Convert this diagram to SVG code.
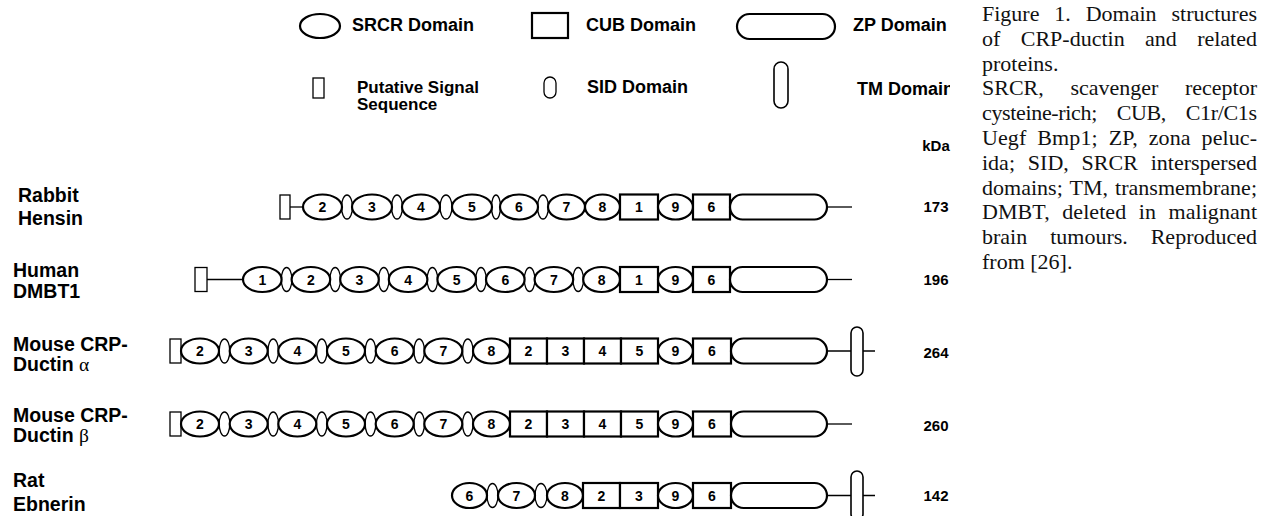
<svg xmlns="http://www.w3.org/2000/svg" width="1267" height="516" viewBox="0 0 1267 516">
<style>
.d{fill:#fff;stroke:#000;stroke-width:2.2}
.s{fill:#fff;stroke:#000;stroke-width:1.3}
.tm{fill:#fff;stroke:#000;stroke-width:1.6}
.ln{stroke:#000;stroke-width:1.3;fill:none}
.n{font-family:"Liberation Sans",Arial,sans-serif;font-weight:bold;font-size:14px;text-anchor:middle;fill:#000}
.lb{font-family:"Liberation Sans",Arial,sans-serif;font-weight:bold;font-size:19.5px;fill:#000}
.lg{font-family:"Liberation Sans",Arial,sans-serif;font-weight:bold;font-size:18px;fill:#000}
.lg2{font-family:"Liberation Sans",Arial,sans-serif;font-weight:bold;font-size:17px;fill:#000}
.k{font-family:"Liberation Sans",Arial,sans-serif;font-weight:bold;font-size:15px;text-anchor:middle;fill:#000}
.gr{font-family:"Liberation Serif","Times New Roman",serif;font-weight:normal}
.cap{font-family:"Liberation Serif","Times New Roman",serif;font-size:22px;fill:#111}
</style>
<defs>
<clipPath id="fig"><rect x="0" y="0" width="950" height="516"/></clipPath>
</defs>
<rect width="1267" height="516" fill="#fff"/>

<!-- Legend -->
<g id="legend">
<g id="leg-srcr"><ellipse class="d" cx="320" cy="26" rx="20" ry="12"/><text class="lg" x="352" y="31">SRCR Domain</text></g>
<g id="leg-cub"><rect class="d" x="532" y="13" width="36" height="25"/><text class="lg" x="586" y="31">CUB Domain</text></g>
<g id="leg-zp"><rect class="d" x="737" y="14" width="98" height="25" rx="12.5"/><text class="lg" x="853" y="31">ZP Domain</text></g>
<g id="leg-sig"><rect class="s" x="313" y="78" width="11" height="20"/><text class="lg2" x="357" y="93">Putative Signal</text><text class="lg2" x="357" y="110">Sequence</text></g>
<g id="leg-sid"><rect class="s" x="544" y="77" width="12" height="21" rx="6"/><text class="lg" x="587" y="93">SID Domain</text></g>
<g id="leg-tm"><rect class="tm" x="774" y="62" width="14" height="46" rx="7"/><text class="lg" x="857" y="95" clip-path="url(#fig)">TM Domain</text></g>
</g>

<text class="k" x="936" y="151">kDa</text>

<!-- Connectors (linkers) -->
<g id="connectors">
<line class="ln" x1="290" y1="207" x2="303" y2="207"/>
<line class="ln" x1="827" y1="207" x2="852" y2="207"/>
<line class="ln" x1="207" y1="279.5" x2="243" y2="279.5"/>
<line class="ln" x1="827" y1="279.5" x2="852" y2="279.5"/>
<line class="ln" x1="827" y1="351" x2="875" y2="351"/>
<line class="ln" x1="827" y1="424" x2="852" y2="424"/>
<line class="ln" x1="827" y1="495.5" x2="875" y2="495.5"/>
</g>

<!-- Row 1: Rabbit Hensin -->
<g id="rabbit-hensin">
<text class="lb" x="18" y="202">Rabbit</text><text class="lb" x="18" y="225">Hensin</text>
<rect class="s" x="280" y="195" width="10" height="24"/>
<ellipse class="s" cx="347" cy="207" rx="5.5" ry="12"/>
<ellipse class="s" cx="397" cy="207" rx="5.5" ry="12"/>
<ellipse class="s" cx="446" cy="207" rx="6" ry="12"/>
<ellipse class="s" cx="496" cy="207" rx="4.5" ry="12"/>
<ellipse class="s" cx="543" cy="207" rx="5.5" ry="12"/>
<ellipse class="d" cx="322.5" cy="207" rx="19.5" ry="12.5"/><text class="n" x="322.5" y="212">2</text>
<ellipse class="d" cx="372" cy="207" rx="20" ry="12.5"/><text class="n" x="372" y="212">3</text>
<ellipse class="d" cx="421" cy="207" rx="19" ry="12.5"/><text class="n" x="421" y="212">4</text>
<ellipse class="d" cx="472" cy="207" rx="20" ry="12.5"/><text class="n" x="472" y="212">5</text>
<ellipse class="d" cx="519" cy="207" rx="19" ry="12.5"/><text class="n" x="519" y="212">6</text>
<ellipse class="d" cx="566.5" cy="207" rx="18.5" ry="12.5"/><text class="n" x="566.5" y="212">7</text>
<ellipse class="d" cx="602.5" cy="207" rx="17.5" ry="12.5"/><text class="n" x="602.5" y="212">8</text>
<rect class="d" x="620" y="194.5" width="38" height="25"/><text class="n" x="639" y="212">1</text>
<ellipse class="d" cx="675.5" cy="207" rx="17.5" ry="12.5"/><text class="n" x="675.5" y="212">9</text>
<rect class="d" x="693" y="194.5" width="37" height="25"/><text class="n" x="711.5" y="212">6</text>
<rect class="d" x="730" y="194.5" width="97" height="25" rx="12.5"/>
<text class="k" x="936" y="212">173</text>
</g>

<!-- Row 2: Human DMBT1 -->
<g id="human-dmbt1">
<text class="lb" x="13" y="277">Human</text><text class="lb" x="13" y="298">DMBT1</text>
<rect class="s" x="195" y="267.5" width="12" height="24"/>
<ellipse class="s" cx="286.6" cy="279.5" rx="5.3" ry="12"/>
<ellipse class="s" cx="335.2" cy="279.5" rx="5.3" ry="12"/>
<ellipse class="s" cx="383.8" cy="279.5" rx="5.3" ry="12"/>
<ellipse class="s" cx="432.4" cy="279.5" rx="5.3" ry="12"/>
<ellipse class="s" cx="481" cy="279.5" rx="5.3" ry="12"/>
<ellipse class="s" cx="529.6" cy="279.5" rx="5.3" ry="12"/>
<ellipse class="s" cx="578.2" cy="279.5" rx="5.3" ry="12"/>
<ellipse class="d" cx="262.3" cy="279.5" rx="19.3" ry="12.5"/><text class="n" x="262.3" y="284.5">1</text>
<ellipse class="d" cx="310.9" cy="279.5" rx="19.3" ry="12.5"/><text class="n" x="310.9" y="284.5">2</text>
<ellipse class="d" cx="359.5" cy="279.5" rx="19.3" ry="12.5"/><text class="n" x="359.5" y="284.5">3</text>
<ellipse class="d" cx="408.1" cy="279.5" rx="19.3" ry="12.5"/><text class="n" x="408.1" y="284.5">4</text>
<ellipse class="d" cx="456.7" cy="279.5" rx="19.3" ry="12.5"/><text class="n" x="456.7" y="284.5">5</text>
<ellipse class="d" cx="505.3" cy="279.5" rx="19.3" ry="12.5"/><text class="n" x="505.3" y="284.5">6</text>
<ellipse class="d" cx="553.9" cy="279.5" rx="19.3" ry="12.5"/><text class="n" x="553.9" y="284.5">7</text>
<ellipse class="d" cx="601.6" cy="279.5" rx="18.4" ry="12.5"/><text class="n" x="601.6" y="284.5">8</text>
<rect class="d" x="620" y="267" width="38" height="25"/><text class="n" x="639" y="284.5">1</text>
<ellipse class="d" cx="675.5" cy="279.5" rx="17.5" ry="12.5"/><text class="n" x="675.5" y="284.5">9</text>
<rect class="d" x="693" y="267" width="37" height="25"/><text class="n" x="711.5" y="284.5">6</text>
<rect class="d" x="730" y="267" width="97" height="25" rx="12.5"/>
<text class="k" x="936" y="285">196</text>
</g>

<!-- Row 3: Mouse CRP-Ductin alpha -->
<g id="mouse-crp-ductin-alpha">
<text class="lb" x="13" y="351">Mouse CRP-</text><text class="lb" x="13" y="371">Ductin <tspan class="gr">α</tspan></text>
<rect class="s" x="170" y="339" width="11" height="24"/>
<ellipse class="s" cx="224.5" cy="351" rx="5.3" ry="12"/>
<ellipse class="s" cx="273.2" cy="351" rx="5.3" ry="12"/>
<ellipse class="s" cx="321.8" cy="351" rx="5.3" ry="12"/>
<ellipse class="s" cx="370.5" cy="351" rx="5.3" ry="12"/>
<ellipse class="s" cx="419.2" cy="351" rx="5.3" ry="12"/>
<ellipse class="s" cx="467.8" cy="351" rx="5.3" ry="12"/>
<ellipse class="d" cx="200" cy="351" rx="19" ry="12.5"/><text class="n" x="200" y="356">2</text>
<ellipse class="d" cx="248.7" cy="351" rx="19" ry="12.5"/><text class="n" x="248.7" y="356">3</text>
<ellipse class="d" cx="297.3" cy="351" rx="19" ry="12.5"/><text class="n" x="297.3" y="356">4</text>
<ellipse class="d" cx="346" cy="351" rx="19" ry="12.5"/><text class="n" x="346" y="356">5</text>
<ellipse class="d" cx="394.7" cy="351" rx="19" ry="12.5"/><text class="n" x="394.7" y="356">6</text>
<ellipse class="d" cx="443.3" cy="351" rx="19" ry="12.5"/><text class="n" x="443.3" y="356">7</text>
<ellipse class="d" cx="491.5" cy="351" rx="18.5" ry="12.5"/><text class="n" x="491.5" y="356">8</text>
<rect class="d" x="510" y="338.5" width="37" height="25"/><text class="n" x="528.5" y="356">2</text>
<rect class="d" x="547" y="338.5" width="37" height="25"/><text class="n" x="565.5" y="356">3</text>
<rect class="d" x="584" y="338.5" width="37" height="25"/><text class="n" x="602.5" y="356">4</text>
<rect class="d" x="621" y="338.5" width="37" height="25"/><text class="n" x="639.5" y="356">5</text>
<ellipse class="d" cx="675.5" cy="351" rx="17.5" ry="12.5"/><text class="n" x="675.5" y="356">9</text>
<rect class="d" x="693" y="338.5" width="38" height="25"/><text class="n" x="712" y="356">6</text>
<rect class="d" x="731" y="338.5" width="96" height="25" rx="12.5"/>
<rect class="tm" x="851" y="327" width="12" height="49" rx="6"/>
<text class="k" x="936" y="358">264</text>
</g>

<!-- Row 4: Mouse CRP-Ductin beta -->
<g id="mouse-crp-ductin-beta">
<text class="lb" x="13" y="422">Mouse CRP-</text><text class="lb" x="13" y="442">Ductin <tspan class="gr">β</tspan></text>
<rect class="s" x="170" y="412" width="11" height="24"/>
<ellipse class="s" cx="224.5" cy="424" rx="5.3" ry="12"/>
<ellipse class="s" cx="273.2" cy="424" rx="5.3" ry="12"/>
<ellipse class="s" cx="321.8" cy="424" rx="5.3" ry="12"/>
<ellipse class="s" cx="370.5" cy="424" rx="5.3" ry="12"/>
<ellipse class="s" cx="419.2" cy="424" rx="5.3" ry="12"/>
<ellipse class="s" cx="467.8" cy="424" rx="5.3" ry="12"/>
<ellipse class="d" cx="200" cy="424" rx="19" ry="12.5"/><text class="n" x="200" y="429">2</text>
<ellipse class="d" cx="248.7" cy="424" rx="19" ry="12.5"/><text class="n" x="248.7" y="429">3</text>
<ellipse class="d" cx="297.3" cy="424" rx="19" ry="12.5"/><text class="n" x="297.3" y="429">4</text>
<ellipse class="d" cx="346" cy="424" rx="19" ry="12.5"/><text class="n" x="346" y="429">5</text>
<ellipse class="d" cx="394.7" cy="424" rx="19" ry="12.5"/><text class="n" x="394.7" y="429">6</text>
<ellipse class="d" cx="443.3" cy="424" rx="19" ry="12.5"/><text class="n" x="443.3" y="429">7</text>
<ellipse class="d" cx="491.5" cy="424" rx="18.5" ry="12.5"/><text class="n" x="491.5" y="429">8</text>
<rect class="d" x="510" y="411.5" width="37" height="25"/><text class="n" x="528.5" y="429">2</text>
<rect class="d" x="547" y="411.5" width="37" height="25"/><text class="n" x="565.5" y="429">3</text>
<rect class="d" x="584" y="411.5" width="37" height="25"/><text class="n" x="602.5" y="429">4</text>
<rect class="d" x="621" y="411.5" width="37" height="25"/><text class="n" x="639.5" y="429">5</text>
<ellipse class="d" cx="675.5" cy="424" rx="17.5" ry="12.5"/><text class="n" x="675.5" y="429">9</text>
<rect class="d" x="693" y="411.5" width="38" height="25"/><text class="n" x="712" y="429">6</text>
<rect class="d" x="731" y="411.5" width="96" height="25" rx="12.5"/>
<text class="k" x="936" y="431">260</text>
</g>

<!-- Row 5: Rat Ebnerin -->
<g id="rat-ebnerin">
<text class="lb" x="13" y="487">Rat</text><text class="lb" x="13" y="511">Ebnerin</text>
<ellipse class="s" cx="492.5" cy="495.5" rx="5.5" ry="12"/>
<ellipse class="s" cx="541" cy="495.5" rx="6" ry="12"/>
<ellipse class="d" cx="469.5" cy="495.5" rx="17.5" ry="12.5"/><text class="n" x="469.5" y="500.5">6</text>
<ellipse class="d" cx="516.5" cy="495.5" rx="18.5" ry="12.5"/><text class="n" x="516.5" y="500.5">7</text>
<ellipse class="d" cx="565" cy="495.5" rx="18" ry="12.5"/><text class="n" x="565" y="500.5">8</text>
<rect class="d" x="583" y="483" width="37" height="25"/><text class="n" x="601.5" y="500.5">2</text>
<rect class="d" x="620" y="483" width="38" height="25"/><text class="n" x="639" y="500.5">3</text>
<ellipse class="d" cx="675.5" cy="495.5" rx="17.5" ry="12.5"/><text class="n" x="675.5" y="500.5">9</text>
<rect class="d" x="693" y="483" width="38" height="25"/><text class="n" x="712" y="500.5">6</text>
<rect class="d" x="731" y="483" width="96" height="25" rx="12.5"/>
<rect class="tm" x="851" y="471" width="12" height="49" rx="6"/>
<text class="k" x="936" y="501">142</text>
</g>

<!-- Caption -->
<g id="caption" class="cap">
<text x="982" y="21" word-spacing="9.4" textLength="275" lengthAdjust="spacing">Figure 1. Domain structures</text>
<text x="982" y="45.8" word-spacing="14.9" textLength="275" lengthAdjust="spacing">of CRP-ductin and related</text>
<text x="982" y="70.6">proteins.</text>
<text x="982" y="95.4" word-spacing="21.1" textLength="275" lengthAdjust="spacing">SRCR, scavenger receptor</text>
<text x="982" y="120.2" word-spacing="14.5" textLength="275" lengthAdjust="spacing">cysteine-rich; CUB, C1r/C1s</text>
<text x="982" y="145" word-spacing="5.35" textLength="275" lengthAdjust="spacing">Uegf Bmp1; ZP, zona peluc-</text>
<text x="982" y="169.8" word-spacing="7.3" textLength="275" lengthAdjust="spacing">ida; SID, SRCR interspersed</text>
<text x="982" y="194.6" word-spacing="1.5" textLength="275" lengthAdjust="spacing">domains; TM, transmembrane;</text>
<text x="982" y="219.4" word-spacing="6.9" textLength="275" lengthAdjust="spacing">DMBT, deleted in malignant</text>
<text x="982" y="244.2" word-spacing="17.4" textLength="275" lengthAdjust="spacing">brain tumours. Reproduced</text>
<text x="982" y="269">from [26].</text>
</g>
</svg>
